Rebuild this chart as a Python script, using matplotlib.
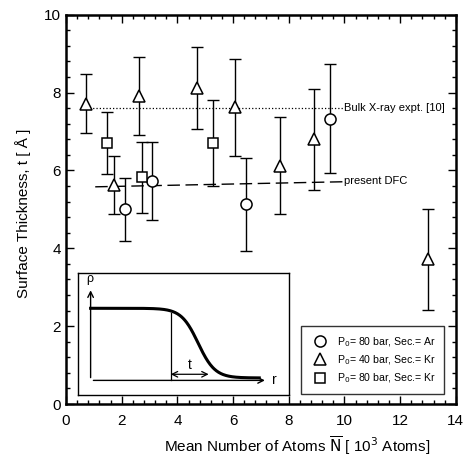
import numpy as np
import matplotlib.pyplot as plt
from matplotlib.ticker import MultipleLocator

plt.rcParams['font.family'] = ['Liberation Sans', 'DejaVu Sans']

# P0 = 80 bar, Sec. = Ar (circles)
ar80_x = [2.12, 3.1, 6.45, 9.47]
ar80_y = [5.0, 5.72, 5.13, 7.33]
ar80_err = [0.8, 1.0, 1.2, 1.4]

# P0 = 40 bar, Sec. = Kr (triangles)
kr40_x = [0.72, 1.72, 2.63, 4.72, 6.07, 7.7, 8.9, 13.0]
kr40_y = [7.72, 5.62, 7.92, 8.12, 7.62, 6.12, 6.8, 3.72]
kr40_err = [0.75, 0.75, 1.0, 1.05, 1.25, 1.25, 1.3, 1.3]

# P0 = 80 bar, Sec. = Kr (squares)
kr80_x = [1.47, 2.72, 5.28]
kr80_y = [6.7, 5.82, 6.7]
kr80_err = [0.8, 0.9, 1.1]

bulk_x = [0.72, 9.95]
bulk_y = [7.6, 7.6]
dfc_x = [1.05, 9.95]
dfc_y = [5.58, 5.71]

fig = plt.figure(figsize=(4.69, 4.59), dpi=100)
ax = fig.add_axes([0.1407, 0.1198, 0.8313, 0.848])

ax.plot(bulk_x, bulk_y, ':', color='black', lw=0.9)
ax.plot(dfc_x, dfc_y, '--', color='black', lw=1.0, dashes=(9, 4))
ax.text(10.0, 7.6, 'Bulk X-ray expt. [10]', fontsize=8, va='center', ha='left')
ax.text(10.0, 5.72, 'present DFC', fontsize=8, va='center', ha='left')

eb = dict(fmt='none', ecolor='black', elinewidth=1.0, capsize=4, capthick=1.0)
ax.errorbar(ar80_x, ar80_y, yerr=ar80_err, **eb)
ax.errorbar(kr40_x, kr40_y, yerr=kr40_err, **eb)
ax.errorbar(kr80_x, kr80_y, yerr=kr80_err, **eb)

mk = dict(ls='none', mfc='white', mec='black', mew=1.1)
h1, = ax.plot(ar80_x, ar80_y, marker='o', ms=8, **mk)
h2, = ax.plot(kr40_x, kr40_y, marker='^', ms=8, **mk)
h3, = ax.plot(kr80_x, kr80_y, marker='s', ms=7.5, **mk)

leg = ax.legend([h1, h2, h3],
                ['P$_0$= 80 bar, Sec.= Ar', 'P$_0$= 40 bar, Sec.= Kr', 'P$_0$= 80 bar, Sec.= Kr'],
                loc='lower right', bbox_to_anchor=(0.984, 0.013), fontsize=7.6,
                frameon=True, fancybox=False, edgecolor='black', handletextpad=0.6,
                borderpad=0.8, labelspacing=0.45)
leg.get_frame().set_linewidth(1.0)

ax.set_xlim(0, 14)
ax.set_ylim(0, 10)
ax.xaxis.set_major_locator(MultipleLocator(2))
ax.xaxis.set_minor_locator(MultipleLocator(0.4))
ax.yaxis.set_major_locator(MultipleLocator(2))
ax.yaxis.set_minor_locator(MultipleLocator(0.4))
ax.tick_params(which='both', direction='in', top=True, right=True, labelsize=11, width=1.0)
ax.tick_params(which='major', length=6)
ax.tick_params(which='minor', length=3)
ax.tick_params(axis='x', pad=7)
for s in ax.spines.values():
    s.set_linewidth(1.8)

ax.set_xlabel(r'Mean Number of Atoms $\overline{\mathrm{N}}$ [ 10$^3$ Atoms]', fontsize=11)
ax.xaxis.set_label_coords(0.592, -0.078)
ax.set_ylabel('Surface Thickness, t [ Å ]', fontsize=11)
ax.yaxis.set_label_coords(-0.09, 0.49)

# inset sketch of the density profile
ins = ax.inset_axes([0.43 / 14, 0.23 / 10, (8.0 - 0.43) / 14, (3.37 - 0.23) / 10])
ins.set_xlim(0, 1)
ins.set_ylim(0, 1)
ins.set_xticks([])
ins.set_yticks([])
for s in ins.spines.values():
    s.set_linewidth(1.0)
r = np.linspace(0.06, 0.86, 300)
rho = 0.14 + 0.57 / (1 + np.exp((r - 0.57) / 0.04))
ins.plot(r, rho, color='black', lw=2.2)
ins.annotate('', xy=(0.06, 0.88), xytext=(0.06, 0.12),
             arrowprops=dict(arrowstyle='->', lw=1.0, color='black'))
ins.annotate('', xy=(0.9, 0.12), xytext=(0.06, 0.12),
             arrowprops=dict(arrowstyle='->', lw=1.0, color='black'))
ins.text(0.04, 0.9, 'ρ', fontsize=9, ha='left', va='bottom')
ins.text(0.92, 0.12, 'r', fontsize=10, ha='left', va='center')
ins.plot([0.44, 0.44], [0.12, 0.67], color='black', lw=0.9)
ins.annotate('', xy=(0.44, 0.17), xytext=(0.62, 0.17),
             arrowprops=dict(arrowstyle='<->', lw=0.9, color='black', shrinkA=0, shrinkB=0))
ins.text(0.53, 0.19, 't', fontsize=10, ha='center', va='bottom')

fig.savefig('out.png', dpi=100)
